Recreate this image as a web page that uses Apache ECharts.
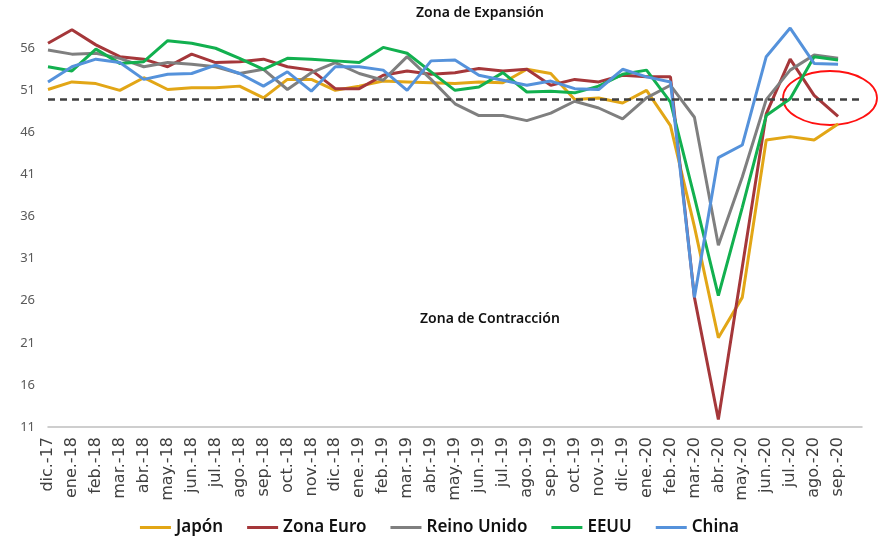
<!DOCTYPE html>
<html>
<head>
<meta charset="utf-8">
<script src="https://cdn.jsdelivr.net/npm/echarts@6/dist/echarts.min.js"></script>
<style>
  html, body { margin: 0; padding: 0; background: #fff; }
  #chart { width: 879px; height: 544px; }
</style>
</head>
<body>
<div id="chart"></div>
<script>
// meses
const meses = ['dic.-17', 'ene.-18', 'feb.-18', 'mar.-18', 'abr.-18', 'may.-18', 'jun.-18', 'jul.-18',
  'ago.-18', 'sep.-18', 'oct.-18', 'nov.-18', 'dic.-18', 'ene.-19', 'feb.-19', 'mar.-19', 'abr.-19',
  'may.-19', 'jun.-19', 'jul.-19', 'ago.-19', 'sep.-19', 'oct.-19', 'nov.-19', 'dic.-19', 'ene.-20',
  'feb.-20', 'mar.-20', 'abr.-20', 'may.-20', 'jun.-20', 'jul.-20', 'ago.-20', 'sep.-20']

// PMI
const japon = [51.1, 52.0, 51.8, 51.0, 52.5, 51.1, 51.3, 51.3, 51.5, 50.1, 52.3, 52.3, 51.0, 51.5, 52.1, 52.0, 51.9,
  51.8, 52.0, 51.9, 53.5, 53.0, 49.9, 50.1, 49.5, 51.0, 46.8, 34.8, 21.6, 26.4, 45.1, 45.5, 45.1, 47.0]
const zonaEuro = [56.6, 58.2, 56.4, 55.0, 54.7, 53.8, 55.3, 54.3, 54.4, 54.7, 53.8, 53.4, 51.2, 51.2, 52.8, 53.3, 52.9,
  53.1, 53.6, 53.3, 53.5, 51.6, 52.3, 52.0, 52.8, 52.6, 52.6, 26.4, 11.9, 30.0, 48.2, 54.7, 50.4, 47.9]
const reinoUnido = [55.8, 55.3, 55.4, 54.8, 53.8, 54.3, 54.1, 53.8, 53.0, 53.5, 51.1, 53.1, 54.3, 53.0, 52.2, 55.0, 52.3,
  49.4, 48.0, 48.0, 47.4, 48.3, 49.7, 48.9, 47.6, 50.1, 51.6, 47.8, 32.6, 40.7, 49.9, 53.4, 55.2, 54.8]
const eeuu = [53.8, 53.3, 55.9, 54.2, 54.4, 56.9, 56.6, 56.0, 54.8, 53.5, 54.8, 54.7, 54.5, 54.3, 56.1, 55.4, 53.2,
  51.0, 51.4, 53.1, 50.8, 50.9, 50.7, 51.5, 52.9, 53.4, 49.6, 38.3, 26.6, 37.1, 48.0, 50.0, 55.0, 54.6]
const china = [52.0, 53.8, 54.7, 54.3, 52.3, 52.9, 53.0, 54.0, 53.0, 51.5, 53.2, 50.9, 53.8, 53.8, 53.4, 51.0, 54.5,
  54.6, 52.8, 52.2, 51.6, 52.1, 51.2, 51.1, 53.5, 52.6, 52.0, 26.4, 43.0, 44.5, 55.0, 58.4, 54.2, 54.1]

const umbral = 50

const chart = echarts.init(document.getElementById('chart'))

function linea(nombre, datos, color) {
  return {
    name: nombre,
    type: 'line',
    data: datos,
    symbol: 'none',
    lineStyle: { color: color, width: 3 },
    itemStyle: { color: color }
  }
}

const series = [
  linea('Japón', japon, '#E2A616'),
  linea('Zona Euro', zonaEuro, '#A5373A'),
  linea('Reino Unido', reinoUnido, '#7F7F7F'),
  linea('EEUU', eeuu, '#12B04F'),
  linea('China', china, '#5592DB')
]
// linea de 50 puntos
series[0].markLine = {
  symbol: 'none',
  silent: true,
  label: { show: false },
  lineStyle: { color: '#404040', type: [7, 5], width: 2.5 },
  data: [{ yAxis: umbral }]
}

const option = {
  animation: false,
  grid: { left: 48, right: 17, top: 23, bottom: 117 },
  xAxis: {
    type: 'category',
    data: meses,
    boundaryGap: false,
    max: meses.length, // un hueco vacio a la derecha, como en el original
    axisLine: { lineStyle: { color: '#BFBFBF', width: 1.5 } },
    axisTick: { show: false },
    axisLabel: {
      rotate: 90,
      interval: 0,
      margin: 10,
      color: '#404040',
      fontFamily: 'DejaVu Sans',
      fontSize: 16,
      formatter: (v, i) => (i < meses.length ? v : '')
    }
  },
  yAxis: {
    type: 'value',
    min: 11,
    max: 59,
    interval: 5,
    splitLine: { show: false },
    axisLine: { show: false },
    axisTick: { show: false },
    axisLabel: {
      showMaxLabel: false,
      margin: 13,
      color: '#595959',
      fontFamily: 'Noto Sans',
      fontSize: 13
    }
  },
  legend: {
    bottom: 3,
    left: 'center',
    itemWidth: 31,
    itemHeight: 3,
    itemGap: 24,
    icon: 'rect',
    textStyle: { color: '#111', fontFamily: 'Noto Sans', fontWeight: 600, fontSize: 17 }
  },
  graphic: [
    {
      type: 'text', left: 416, top: 6,
      style: { text: 'Zona de Expansión', fill: '#111', font: '600 14px "Noto Sans"' }
    },
    {
      type: 'text', left: 420, top: 312,
      style: { text: 'Zona de Contracción', fill: '#111', font: '600 14px "Noto Sans"' }
    },
    {
      type: 'ellipse',
      shape: { cx: 830, cy: 98, rx: 47, ry: 27 },
      style: { fill: 'none', stroke: '#FF1010', lineWidth: 1.8 }
    }
  ],
  series: series
}

chart.setOption(option)
</script>
</body>
</html>
